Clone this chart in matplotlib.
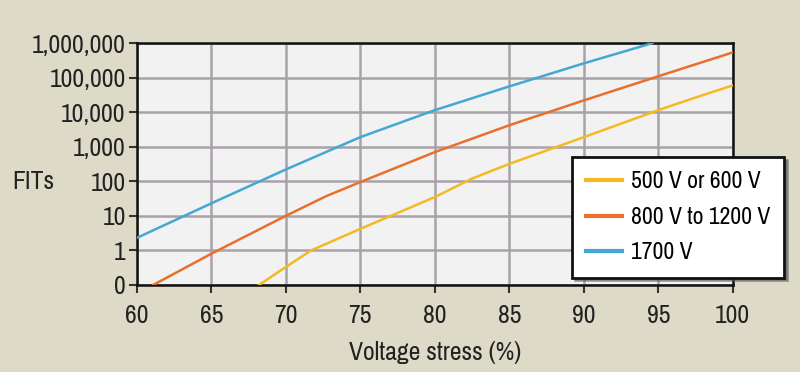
import numpy as np
import matplotlib.pyplot as plt

# Data (FITs vs voltage stress); 0.1 stands for the "0" baseline
x_low = [68.2, 70, 71.7, 75, 80, 82.5, 85, 90, 95, 97.3, 100]
y_low = [0.1, 0.33, 1.0, 4.2, 35, 120, 320, 1900, 11500, 25000, 60000]

x_mid = [61.1, 65, 70, 72.7, 75, 80, 85, 90, 95, 100]
y_mid = [0.1, 0.8, 10, 37, 95, 700, 4200, 22000, 110000, 540000]

x_high = [60, 65, 70, 75, 80, 85, 90, 94.6]
y_high = [2.3, 23, 220, 1900, 11500, 56000, 260000, 1000000]

xticks = [60, 65, 70, 75, 80, 85, 90, 95, 100]
yticks = [0.1, 1, 10, 100, 1000, 10000, 100000, 1000000]
ytick_labels = ['0', '1', '10', '100', '1,000', '10,000', '100,000', '1,000,000']
labels = ['500 V or 600 V', '800 V to 1200 V', '1700 V']
colors = ['#f4b925', '#e8702c', '#44a8d2']

plt.rcParams['font.family'] = ['Archivo Narrow', 'DejaVu Sans']

fig = plt.figure(figsize=(8, 3.72), dpi=100)
fig.patch.set_facecolor('#dddbc8')
ax = fig.add_axes([0.171, 0.234, 0.745, 0.65])
ax.set_facecolor('#f2f2f2')

lines = []
for xs, ys, c in zip([x_low, x_mid, x_high], [y_low, y_mid, y_high], colors):
    l, = ax.plot(xs, ys, color=c, lw=1.8, zorder=3)
    lines.append(l)

ax.set_yscale('log')
ax.set_xlim(60, 100)
ax.set_ylim(0.1, 1000000)
ax.set_xticks(xticks)
ax.set_yticks(yticks)
ax.set_yticklabels(ytick_labels)
ax.minorticks_off()
ax.grid(True, color='#a9a3a9', lw=1.8)
ax.set_axisbelow(True)
ax.tick_params(direction='out', length=6, width=1.5, color='#333333',
               labelsize=18.5, colors='#222222')
ax.tick_params(axis='x', pad=8)
ax.tick_params(axis='y', pad=2)
for s in ax.spines.values():
    s.set_color('#111111')
    s.set_linewidth(1.8)

ax.set_xlabel('Voltage stress (%)', fontsize=18.5, color='#222222', labelpad=10)
fig.text(0.042, 0.511, 'FITs', fontsize=18.5, color='#222222', va='center', ha='center')

leg = fig.legend(lines, labels, loc='upper left', bbox_to_anchor=(0.715, 0.578),
                 frameon=True, fancybox=False, shadow=True, fontsize=17,
                 handlelength=1.5, handletextpad=0.4, borderpad=0.6,
                 labelspacing=0.62, borderaxespad=0)
leg.get_frame().set_edgecolor('#111111')
leg.get_frame().set_linewidth(2)
leg.get_frame().set_facecolor('white')
for h in leg.get_lines():
    h.set_linewidth(3)

fig.savefig('out.png', dpi=100, facecolor=fig.get_facecolor())
